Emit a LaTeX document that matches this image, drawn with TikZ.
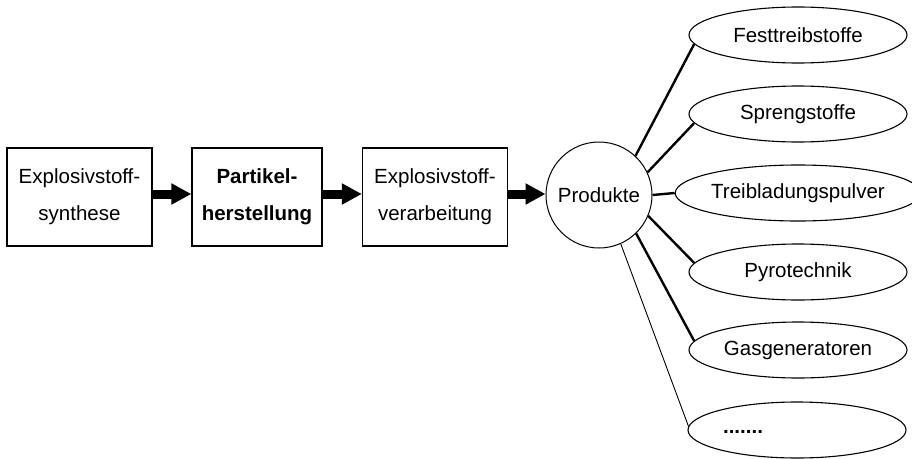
\documentclass[tikz,border=0pt]{standalone}
\usepackage{fontspec}
\setmainfont{Liberation Sans}
\usetikzlibrary{shapes.geometric,arrows.meta}

\tikzset{
  txt/.style={font=\fontsize{20.5}{37}\selectfont},
  stage/.style={txt, draw, line width=1.3pt, minimum height=98pt,
    inner sep=0pt, align=center},
  hub/.style={txt, draw, circle, line width=1pt, minimum size=106pt, inner sep=0pt},
  product/.style={txt, draw, ellipse, line width=1.1pt, minimum width=218pt,
    minimum height=56pt, inner sep=0pt},
  flow/.style={line width=9pt, -{Triangle[length=20pt,width=20pt]}},
  spoke/.style={line width=2.4pt},
  thinspoke/.style={line width=0.9pt}
}

\begin{document}
\begin{tikzpicture}[x=1pt, y=-1pt]
  \useasboundingbox (0,0) rectangle (912,458);

  % process chain
  \node[stage, minimum width=145pt] (syn) at (79.5,197) {Explosivstoff-\\synthese};
  \node[stage, minimum width=130pt] (part) at (257,197) {\textbf{Partikel-}\\\textbf{herstellung}};
  \node[stage, minimum width=145pt] (verarb) at (435,197) {Explosivstoff-\\verarbeitung};
  \node[hub] (prod) at (599,195) {Produkte};

  \draw[flow] (syn.east |- 0,194) -- (part.west |- 0,194);
  \draw[flow] (part.east |- 0,194) -- (verarb.west |- 0,194);
  \draw[flow] (verarb.east |- 0,194) -- (prod.west |- 0,194);

  % product families
  \node[product] (fest) at (798,35) {Festtreibstoffe};
  \node[product] (spreng) at (798,114) {Sprengstoffe};
  \node[product] (treib) at (798,193) {Treibladungspulver};
  \node[product] (pyro) at (798,272) {Pyrotechnik};
  \node[product] (gas) at (798,350) {Gasgeneratoren};
  \node[product] (more) at (797,430) {};
  \node[txt, anchor=center] (dots) at (743,432) {\textbf{.......}};

  \draw[spoke] (prod.47) -- (fest.185);
  \draw[spoke] (prod.25) -- (spreng.185);
  \draw[spoke] (prod.east) -- (treib.west);
  \draw[spoke] (prod.-23) -- (pyro.175);
  \draw[spoke] (prod.-46) -- (gas.175);
  \draw[thinspoke] (prod.-66) -- (more.178);
\end{tikzpicture}
\end{document}
